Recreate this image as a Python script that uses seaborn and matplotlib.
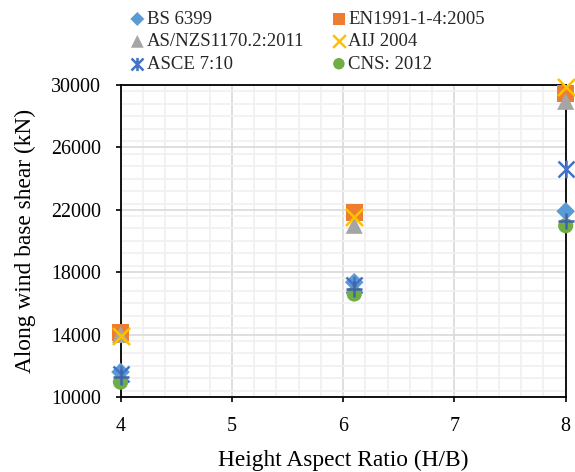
import matplotlib
matplotlib.use("Agg")
import matplotlib.pyplot as plt
from matplotlib.path import Path
from matplotlib.ticker import MultipleLocator
import seaborn as sns
import pandas as pd

# data
aspect_ratio = [4, 6.1, 8]
bs6399 = [11600, 17350, 21900]
en1991 = [14150, 21850, 29450]
asnzs1170 = [14000, 21000, 28950]
aij2004 = [13900, 21550, 29850]
asce710 = [11500, 17150, 24600]
cns2012 = [10950, 16600, 20980]
unlabeled_plus = [11300, 16950, 21250]

y_ticks = [10000, 14000, 18000, 22000, 26000, 30000]

# asterisk like the spreadsheet "star" marker: an x plus a vertical bar
star = Path([(-1, -1), (1, 1), (-1, 1), (1, -1), (0, -1.1), (0, 1.1)],
            [Path.MOVETO, Path.LINETO, Path.MOVETO, Path.LINETO, Path.MOVETO, Path.LINETO])

series = [
    ("BS 6399", bs6399, "D", "#5b9bd5", 90),
    ("EN1991-1-4:2005", en1991, "s", "#ed7d31", 150),
    ("AS/NZS1170.2:2011", asnzs1170, "^", "#a5a5a5", 150),
    ("AIJ 2004", aij2004, "x", "#ffc000", 150),
    ("ASCE 7:10", asce710, star, "#4472c4", 160),
    ("CNS: 2012", cns2012, "o", "#70ad47", 120),
    (None, unlabeled_plus, "+", "#3f63b0", 120),
]

sns.set_theme(style="white")
plt.rcParams["font.family"] = ["Liberation Serif", "DejaVu Serif"]

fig = plt.figure(figsize=(5.75, 4.72), dpi=100)
ax = fig.add_axes([0.2096, 0.159, 0.7742, 0.661])

for name, values, marker, color, size in series:
    df = pd.DataFrame({"ratio": aspect_ratio, "shear": values})
    kw = dict(data=df, x="ratio", y="shear", marker=marker, color=color, s=size,
              ax=ax, clip_on=False, zorder=3)
    if marker in ("x", "+") or isinstance(marker, Path):
        kw["linewidth"] = 1.8
        if isinstance(marker, Path):
            kw["edgecolor"] = color
    else:
        kw["edgecolor"] = "none"
    if name is not None:
        kw["label"] = name
    sns.scatterplot(**kw)

ax.set_xlim(4, 8)
ax.set_ylim(10000, 30000)
ax.set_yticks(y_ticks)
ax.xaxis.set_major_locator(MultipleLocator(1))
ax.xaxis.set_minor_locator(MultipleLocator(0.2))
ax.yaxis.set_minor_locator(MultipleLocator(800))
ax.grid(which="major", color="#d9d9d9", linewidth=1.2, zorder=0)
ax.grid(which="minor", color="#f0f0f0", linewidth=1.2, zorder=0)
ax.set_axisbelow(True)

for side in ["left", "bottom", "top", "right"]:
    ax.spines[side].set_visible(True)
    ax.spines[side].set_color("black")
    ax.spines[side].set_linewidth(1.3)

ax.tick_params(axis="both", which="major", direction="out", length=3.6, width=1.2,
               color="black", labelsize=14.4, labelcolor="black", pad=10.5,
               left=True, bottom=True, top=False, right=False)
ax.tick_params(axis="both", which="minor", length=0)

ax.set_xlabel("Height Aspect Ratio (H/B)", fontsize=16.8, color="black", labelpad=10)
ax.set_ylabel("Along wind base shear (kN)", fontsize=16.8, color="black", labelpad=11)

handles, labels = ax.get_legend_handles_labels()
if ax.get_legend():
    ax.get_legend().remove()
order = [0, 2, 4, 1, 3, 5]
fig.legend([handles[i] for i in order], [labels[i] for i in order],
           ncol=2, loc="upper left", bbox_to_anchor=(0.2046, 1.005), frameon=False,
           fontsize=13.5, handlelength=0.7, handletextpad=0.15, columnspacing=1.5,
           labelspacing=0.28, borderpad=0.2, markerscale=0.75)

fig.savefig("out.png", dpi=100)
